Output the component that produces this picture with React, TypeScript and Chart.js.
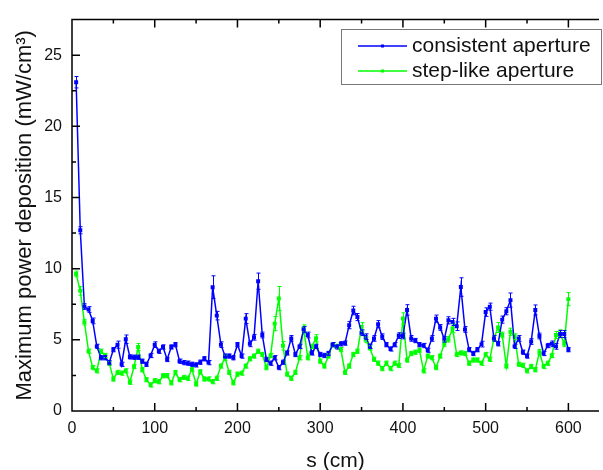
import React, { useEffect, useRef } from "react";
import { Chart, registerables } from "chart.js";

Chart.register(...registerables);

// ---------- data ----------
const positions = [
  5, 10, 15, 20, 25, 30, 35, 40, 45, 50,
  55, 60, 65, 70, 75, 80, 85, 90, 95, 100,
  105, 110, 115, 120, 125, 130, 135, 140, 145, 150,
  155, 160, 165, 170, 175, 180, 185, 190, 195, 200,
  205, 210, 215, 220, 225, 230, 235, 240, 245, 250,
  255, 260, 265, 270, 275, 280, 285, 290, 295, 300,
  305, 310, 315, 320, 325, 330, 335, 340, 345, 350,
  355, 360, 365, 370, 375, 380, 385, 390, 395, 400,
  405, 410, 415, 420, 425, 430, 435, 440, 445, 450,
  455, 460, 465, 470, 475, 480, 485, 490, 495, 500,
  505, 510, 515, 520, 525, 530, 535, 540, 545, 550,
  555, 560, 565, 570, 575, 580, 585, 590, 595, 600,
];

const consistentAperture = [
  23.1, 12.7, 7.34, 7.13, 6.33, 4.54, 3.74, 3.74, 3.4, 4.31,
  4.66, 3.28, 5.04, 3.8, 3.78, 3.78, 3.5, 3.28, 3.9, 4.66,
  4.2, 4.5, 3.62, 4.5, 4.66, 3.5, 3.4, 3.36, 3.28, 3.24,
  3.43, 3.67, 3.4, 8.7, 6.7, 4.66, 3.86, 3.86, 3.74, 4.66,
  3.86, 6.49, 4.72, 5.18, 9.12, 5.34, 3.62, 3.36, 3.74, 3.05,
  3.43, 4.08, 5.1, 3.97, 4.54, 5.73, 5.34, 4.08, 4.54, 3.97,
  3.9, 4.04, 4.66, 4.5, 4.72, 4.77, 6.03, 7.06, 6.6, 5.5,
  5.22, 4.54, 5.1, 6.1, 5.22, 4.66, 4.36, 4.66, 5.3, 5.27,
  7.1, 5.1, 4.95, 4.66, 4.6, 4.27, 5.1, 6.49, 5.87, 5.04,
  6.37, 6.26, 5.96, 8.71, 5.73, 4.31, 4.04, 4.31, 4.7, 6.95,
  7.33, 5.1, 4.72, 6.42, 7.01, 7.79, 4.54, 5.1, 4.13, 3.86,
  4.88, 7.1, 5.27, 4.04, 4.6, 4.72, 4.54, 5.41, 5.41, 4.31,
];

const stepLikeAperture = [
  9.63, 8.44, 6.24, 4.2, 3.05, 2.82, 4.2, 3.9, 3.36, 2.25,
  2.71, 2.66, 2.82, 2.02, 3.13, 4.49, 2.9, 2.2, 1.83, 2.13,
  2.06, 2.48, 2.48, 1.98, 2.7, 2.2, 2.36, 2.3, 2.93, 1.9,
  2.75, 2.25, 2.25, 2.06, 2.3, 3.16, 3.74, 2.71, 1.98, 2.59,
  2.66, 3.16, 3.67, 3.86, 4.2, 3.97, 3.05, 3.9, 6.14, 7.9,
  4.58, 2.59, 2.3, 2.71, 3.74, 5.8, 3.74, 4.54, 5.11, 3.5,
  3.16, 3.86, 4.66, 4.54, 4.31, 2.71, 3.16, 3.97, 4.2, 5.91,
  5.0, 4.43, 3.63, 3.36, 2.98, 3.36, 2.98, 3.36, 3.2, 6.5,
  3.58, 4.04, 4.13, 4.27, 2.82, 3.86, 3.74, 3.05, 3.86, 4.72,
  5.04, 5.8, 3.97, 4.08, 4.04, 3.36, 3.58, 3.58, 3.36, 3.97,
  3.63, 5.1, 5.87, 5.34, 3.16, 5.57, 5.22, 3.28, 3.21, 2.82,
  3.13, 2.9, 4.13, 3.13, 3.36, 3.9, 5.34, 5.45, 4.72, 7.86,
];

const consistentError = [
  0.4, 0.25, 0.2, 0.2, 0.2, 0.15, 0.15, 0.15, 0.15, 0.15,
  0.25, 0.15, 0.3, 0.15, 0.15, 0.15, 0.15, 0.15, 0.15, 0.2,
  0.15, 0.15, 0.15, 0.15, 0.15, 0.15, 0.15, 0.15, 0.15, 0.15,
  0.15, 0.15, 0.15, 0.8, 0.3, 0.2, 0.15, 0.15, 0.15, 0.15,
  0.15, 0.35, 0.2, 0.2, 0.57, 0.2, 0.15, 0.15, 0.15, 0.15,
  0.15, 0.15, 0.2, 0.15, 0.15, 0.2, 0.2, 0.15, 0.15, 0.15,
  0.15, 0.15, 0.15, 0.15, 0.15, 0.15, 0.25, 0.3, 0.25, 0.2,
  0.2, 0.15, 0.2, 0.25, 0.2, 0.15, 0.15, 0.15, 0.2, 0.2,
  0.37, 0.2, 0.15, 0.15, 0.15, 0.15, 0.2, 0.25, 0.2, 0.2,
  0.25, 0.25, 0.3, 0.65, 0.2, 0.15, 0.15, 0.15, 0.2, 0.3,
  0.25, 0.2, 0.15, 0.25, 0.25, 0.5, 0.15, 0.2, 0.15, 0.15,
  0.2, 0.35, 0.2, 0.15, 0.15, 0.2, 0.2, 0.25, 0.25, 0.15,
];

const stepLikeError = [
  0.2, 0.3, 0.2, 0.15, 0.15, 0.15, 0.15, 0.15, 0.15, 0.15,
  0.15, 0.15, 0.15, 0.15, 0.15, 0.25, 0.15, 0.15, 0.15, 0.15,
  0.15, 0.15, 0.15, 0.15, 0.15, 0.15, 0.15, 0.15, 0.15, 0.15,
  0.15, 0.15, 0.15, 0.15, 0.15, 0.15, 0.2, 0.15, 0.15, 0.15,
  0.15, 0.15, 0.15, 0.15, 0.15, 0.15, 0.15, 0.15, 0.5, 0.85,
  0.3, 0.15, 0.15, 0.15, 0.15, 0.25, 0.15, 0.15, 0.25, 0.15,
  0.15, 0.15, 0.15, 0.15, 0.15, 0.15, 0.15, 0.15, 0.15, 0.3,
  0.2, 0.15, 0.15, 0.15, 0.15, 0.15, 0.15, 0.15, 0.15, 0.4,
  0.15, 0.15, 0.15, 0.15, 0.15, 0.15, 0.15, 0.15, 0.15, 0.2,
  0.2, 0.3, 0.15, 0.15, 0.15, 0.15, 0.15, 0.15, 0.15, 0.15,
  0.15, 0.2, 0.35, 0.2, 0.15, 0.25, 0.2, 0.15, 0.15, 0.15,
  0.15, 0.15, 0.2, 0.15, 0.15, 0.15, 0.25, 0.25, 0.2, 0.46,
];

const seriesLabels = ["consistent aperture", "step-like aperture"];
const seriesColors = ["rgb(0,0,255)", "rgb(0,255,0)"];
const xTitle = "s (cm)";
const yTitle = "Maximum power deposition (mW/cm³)";
const xMajorTicks = [0, 100, 200, 300, 400, 500, 600];
const xMinorTicks = [50, 150, 250, 350, 450, 550];
const yMajorTicks = [0, 5, 10, 15, 20, 25];
const yMinorTicks = [2.5, 7.5, 12.5, 17.5, 22.5];

const FONT = '"Liberation Sans", Arial, sans-serif';

// ---------- plugins ----------
const errorBarPlugin = {
  id: "errorBars",
  afterDatasetsDraw(chart: any) {
    const { ctx, scales } = chart;
    const xs = scales.x;
    const ys = scales.y;
    for (let d = chart.data.datasets.length - 1; d >= 0; d--) {
      const ds = chart.data.datasets[d];
      const errs: number[] = ds.errors || [];
      ctx.save();
      ctx.strokeStyle = ds.borderColor;
      ctx.lineWidth = 1;
      ctx.beginPath();
      ds.data.forEach((p: any, i: number) => {
        const e = errs[i] || 0;
        const px = Math.round(xs.getPixelForValue(p.x)) + 0.5;
        const y1 = ys.getPixelForValue(p.y + e);
        const y2 = ys.getPixelForValue(p.y - e);
        ctx.moveTo(px, y1);
        ctx.lineTo(px, y2);
        ctx.moveTo(px - 2, y1);
        ctx.lineTo(px + 2, y1);
        ctx.moveTo(px - 2, y2);
        ctx.lineTo(px + 2, y2);
      });
      ctx.stroke();
      ctx.restore();
    }
  },
};

const framePlugin = {
  id: "frameTicks",
  afterDraw(chart: any) {
    const { ctx, chartArea, scales } = chart;
    const { left, right, top, bottom } = chartArea;
    const xs = scales.x;
    const ys = scales.y;
    ctx.save();
    ctx.strokeStyle = "#000";
    ctx.lineWidth = 1.5;
    ctx.beginPath();
    ctx.moveTo(right, top);
    ctx.lineTo(left, top);
    ctx.lineTo(left, bottom);
    ctx.lineTo(right, bottom);
    const xt = (v: number, len: number) => {
      const px = xs.getPixelForValue(v);
      ctx.moveTo(px, bottom);
      ctx.lineTo(px, bottom - len);
      ctx.moveTo(px, top);
      ctx.lineTo(px, top + len);
    };
    const yt = (v: number, len: number) => {
      const py = ys.getPixelForValue(v);
      ctx.moveTo(left, py);
      ctx.lineTo(left + len, py);
    };
    xMajorTicks.forEach((v) => xt(v, 8));
    xMinorTicks.forEach((v) => xt(v, 4));
    yMajorTicks.forEach((v) => yt(v, 8));
    yMinorTicks.forEach((v) => yt(v, 4));
    ctx.stroke();
    ctx.restore();

    // legend
    const bx = 341.5, by = 29.5, bw = 260, bh = 55;
    ctx.save();
    ctx.fillStyle = "#fff";
    ctx.fillRect(bx, by, bw, bh);
    ctx.strokeStyle = "#777";
    ctx.lineWidth = 1;
    ctx.strokeRect(bx, by, bw, bh);
    const rowsY = [46, 71];
    chart.data.datasets.forEach((ds: any, i: number) => {
      const yy = rowsY[i];
      ctx.strokeStyle = ds.borderColor;
      ctx.lineWidth = 1.5;
      ctx.beginPath();
      ctx.moveTo(358, yy);
      ctx.lineTo(407, yy);
      ctx.stroke();
      ctx.fillStyle = ds.borderColor;
      ctx.fillRect(381, yy - 1.5, 3, 3);
      ctx.fillStyle = "#111";
      ctx.font = `21px ${FONT}`;
      ctx.textAlign = "left";
      ctx.textBaseline = "middle";
      ctx.fillText(ds.label, 412, yy);
    });
    ctx.restore();
  },
};

export default function App() {
  const ref = useRef<HTMLCanvasElement>(null);

  useEffect(() => {
    if (!ref.current) return;
    const datasets = [consistentAperture, stepLikeAperture].map((vals, k) => ({
      label: seriesLabels[k],
      data: positions.map((x, i) => ({ x, y: vals[i] })),
      errors: k === 0 ? consistentError : stepLikeError,
      borderColor: seriesColors[k],
      backgroundColor: seriesColors[k],
      borderWidth: 1.5,
      pointStyle: "rect",
      pointRadius: 2.8,
      pointBorderWidth: 0,
      pointBackgroundColor: seriesColors[k],
      tension: 0,
      fill: false,
    }));

    const chart = new Chart(ref.current, {
      type: "line",
      data: { datasets } as any,
      options: {
        animation: false,
        responsive: false,
        devicePixelRatio: 1,
        layout: { padding: { top: 11, right: 0, bottom: 0, left: 0 } },
        plugins: {
          legend: { display: false },
          tooltip: { enabled: false },
        },
        scales: {
          x: {
            type: "linear",
            position: "bottom",
            min: 0,
            max: 637,
            grid: { display: false, drawTicks: false },
            border: { display: false },
            ticks: {
              stepSize: 100,
              includeBounds: false,
              autoSkip: false,
              maxRotation: 0,
              padding: 8,
              color: "#111",
              font: { family: FONT, size: 16 },
            },
            title: {
              display: true,
              text: xTitle,
              color: "#111",
              font: { family: FONT, size: 21, lineHeight: 1 },
              padding: { top: 0, bottom: -1.5 },
            },
            afterFit: (s: any) => {
              s.height = 59;
            },
          },
          y: {
            type: "linear",
            min: 0,
            max: 27.5,
            grid: { display: false, drawTicks: false },
            border: { display: false },
            ticks: {
              stepSize: 5,
              includeBounds: false,
              padding: 10,
              color: "#111",
              font: { family: FONT, size: 16 },
            },
            title: {
              display: true,
              text: yTitle,
              color: "#111",
              font: { family: FONT, size: 22, lineHeight: 1 },
              padding: { top: 13.5, bottom: 0 },
            },
            afterFit: (s: any) => {
              s.width = 72;
            },
          },
        },
      } as any,
      plugins: [errorBarPlugin, framePlugin],
    });
    return () => chart.destroy();
  }, []);

  return (
    <div
      style={{
        position: "absolute",
        left: 0,
        top: 0,
        width: 603,
        height: 470,
        background: "#fff",
      }}
    >
      <canvas
        ref={ref}
        width={603}
        height={470}
        style={{ display: "block", width: 603, height: 470 }}
      />
    </div>
  );
}
